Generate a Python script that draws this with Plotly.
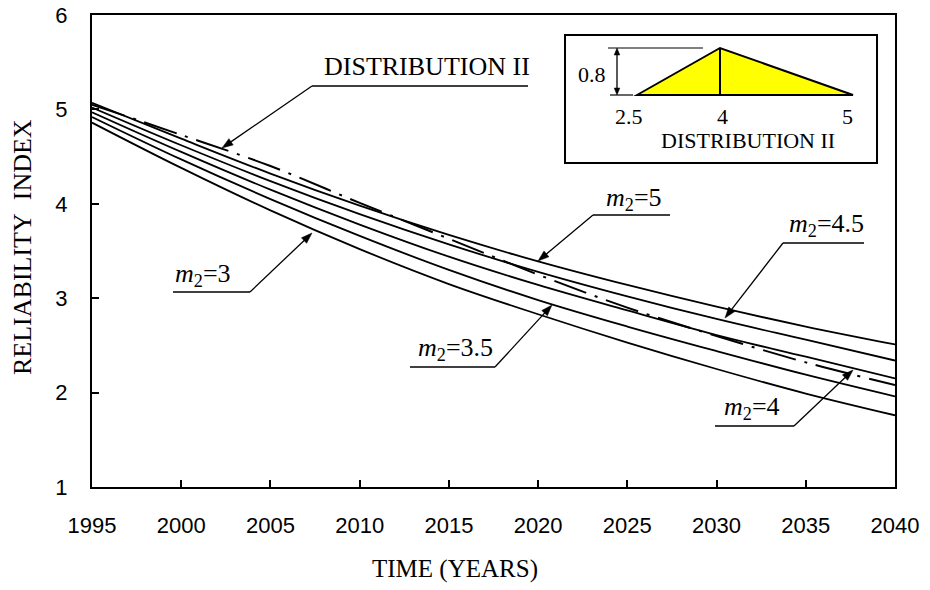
import math
import plotly.graph_objects as go

# Reliability index over time for several m2 values, plus Distribution II
years = [1995, 2000, 2005, 2010, 2015, 2020, 2025, 2030, 2035, 2040]
beta_m5 = [5.07, 4.69, 4.32, 3.98, 3.67, 3.39, 3.14, 2.91, 2.70, 2.51]
beta_m45 = [5.02, 4.62, 4.24, 3.89, 3.57, 3.28, 3.02, 2.78, 2.56, 2.34]
beta_m4 = [4.97, 4.55, 4.15, 3.78, 3.44, 3.14, 2.87, 2.61, 2.38, 2.15]
beta_m35 = [4.92, 4.47, 4.05, 3.66, 3.30, 2.98, 2.70, 2.44, 2.19, 1.96]
beta_m3 = [4.86, 4.38, 3.93, 3.52, 3.15, 2.83, 2.53, 2.25, 1.99, 1.76]
beta_dist2 = [5.05, 4.73, 4.40, 4.01, 3.63, 3.25, 2.90, 2.60, 2.32, 2.08]

x_ticks = [1995, 2000, 2005, 2010, 2015, 2020, 2025, 2030, 2035, 2040]
y_ticks = [1, 2, 3, 4, 5, 6]

# Triangular distribution shown in the inset
dist_labels = ["2.5", "4", "5"]
dist_peak_label = "0.8"

SERIF = "Liberation Serif, Times New Roman, serif"
SANS = "Liberation Sans, Arial, sans-serif"

W, H = 930, 590
PL, PR, PT, PB = 92, 895, 15, 487


def px(x):
    return (x - PL) / (PR - PL)


def py(y):
    return (PB - y) / (PB - PT)


fig = go.Figure()

for vals in [beta_m5, beta_m45, beta_m4, beta_m35, beta_m3]:
    fig.add_trace(go.Scatter(
        x=years, y=vals, mode="lines", line=dict(color="black", width=1.8, shape="spline"),
        showlegend=False, hoverinfo="skip"))

fig.add_trace(go.Scatter(
    x=years, y=beta_dist2, mode="lines",
    line=dict(color="black", width=2, shape="spline", dash="34px,9px,3px,9px"),
    showlegend=False, hoverinfo="skip"))

shapes = []
annotations = []


def seg(x0, y0, x1, y1, w=1.3):
    shapes.append(dict(type="line", xref="paper", yref="paper",
                       x0=px(x0), x1=px(x1), y0=py(y0), y1=py(y1),
                       line=dict(color="black", width=w)))


def hline(x0, x1, y, w=1.3):
    seg(x0, y, x1, y, w)


def head(tail, tip, length=11, half=3.8):
    # filled triangular arrowhead at `tip`, pointing away from `tail` (pixel space)
    vx, vy = tip[0] - tail[0], tip[1] - tail[1]
    n = math.hypot(vx, vy)
    ux, uy = vx / n, vy / n
    bx, by = tip[0] - ux * length, tip[1] - uy * length
    p1 = (bx - uy * half, by + ux * half)
    p2 = (bx + uy * half, by - ux * half)
    path = "M {} {} L {} {} L {} {} Z".format(
        px(tip[0]), py(tip[1]), px(p1[0]), py(p1[1]), px(p2[0]), py(p2[1]))
    shapes.append(dict(type="path", xref="paper", yref="paper", path=path,
                       fillcolor="black", line=dict(color="black", width=0.5)))


def arrow(tail, tip, w=1.3, length=11, half=3.8):
    vx, vy = tip[0] - tail[0], tip[1] - tail[1]
    n = math.hypot(vx, vy)
    end = (tip[0] - vx / n * (length - 2), tip[1] - vy / n * (length - 2))
    seg(tail[0], tail[1], end[0], end[1], w)
    head(tail, tip, length, half)


def label(text, x, y, size=20, font=SERIF):
    annotations.append(dict(
        x=px(x), y=py(y), xref="paper", yref="paper", text=text, showarrow=False,
        font=dict(family=font, size=size, color="black"), xanchor="center", yanchor="middle"))


# Curve callouts: text, underline and arrow
callouts = [
    ("DISTRIBUTION II", (427, 66), (312, 528, 86), (312, 86), (222, 148), 26),
    ("<i>m</i><sub>2</sub>=5", (634, 199), (593, 670, 215), (593, 215), (538, 261), 26),
    ("<i>m</i><sub>2</sub>=4.5", (826, 225), (783, 864, 243), (783, 243), (725, 318), 26),
    ("<i>m</i><sub>2</sub>=3", (203, 275), (173, 250, 292), (250, 292), (312, 233), 26),
    ("<i>m</i><sub>2</sub>=3.5", (455, 349), (410, 495, 367), (495, 367), (552, 305), 26),
    ("<i>m</i><sub>2</sub>=4", (752, 408), (715, 794, 426), (794, 426), (853, 370), 26),
]
for text, pos, ul, tail, tip, size in callouts:
    label(text, pos[0], pos[1], size=size)
    hline(ul[0], ul[1], ul[2])
    arrow(tail, tip)

# Inset box with triangular distribution
shapes.append(dict(type="rect", xref="paper", yref="paper",
                   x0=px(565), x1=px(877), y0=py(163), y1=py(35),
                   line=dict(color="black", width=2), fillcolor="white"))
tri = "M {} {} L {} {} L {} {} Z".format(px(637), py(95), px(720), py(48), px(853), py(95))
shapes.append(dict(type="path", xref="paper", yref="paper", path=tri,
                   fillcolor="#FFFF00", line=dict(color="black", width=2)))
seg(720, 48, 720, 95, w=2)
hline(608, 703, 48, w=1.2)
hline(610, 633, 95, w=1.2)
seg(617, 54, 617, 89, w=1.3)
head((617, 95), (617, 48), length=7, half=2.8)
head((617, 48), (617, 95), length=7, half=2.8)
label(dist_peak_label, 592, 74, size=22)
label(dist_labels[0], 629, 117, size=22)
label(dist_labels[1], 722, 117, size=22)
label(dist_labels[2], 847, 117, size=22)
label("DISTRIBUTION II", 748, 140, size=22)

# Axis titles
label("TIME (YEARS)", 455, 569, size=25)
annotations.append(dict(
    x=px(22), y=py(247), xref="paper", yref="paper", text="RELIABILITY&nbsp;&nbsp;INDEX",
    showarrow=False, textangle=-90, font=dict(family=SERIF, size=26, color="black"),
    xanchor="center", yanchor="middle"))

axis_common = dict(
    ticks="inside", ticklen=7, tickwidth=1.5, tickcolor="black",
    showline=True, linewidth=2, linecolor="black", mirror=True,
    showgrid=False, zeroline=False, automargin=False,
    tickfont=dict(family=SANS, size=22, color="black"))

fig.update_layout(
    width=W, height=H,
    margin=dict(l=PL, r=W - PR, t=PT, b=H - PB, pad=0, autoexpand=False),
    plot_bgcolor="white", paper_bgcolor="white",
    shapes=shapes, annotations=annotations, showlegend=False,
    xaxis=dict(range=[1995, 2040], tickvals=x_ticks, tickformat="d",
               ticklabelstandoff=18, **axis_common),
    yaxis=dict(range=[1, 6], tickvals=y_ticks, ticklabelstandoff=18, **axis_common),
)

fig.write_html("out.html")
